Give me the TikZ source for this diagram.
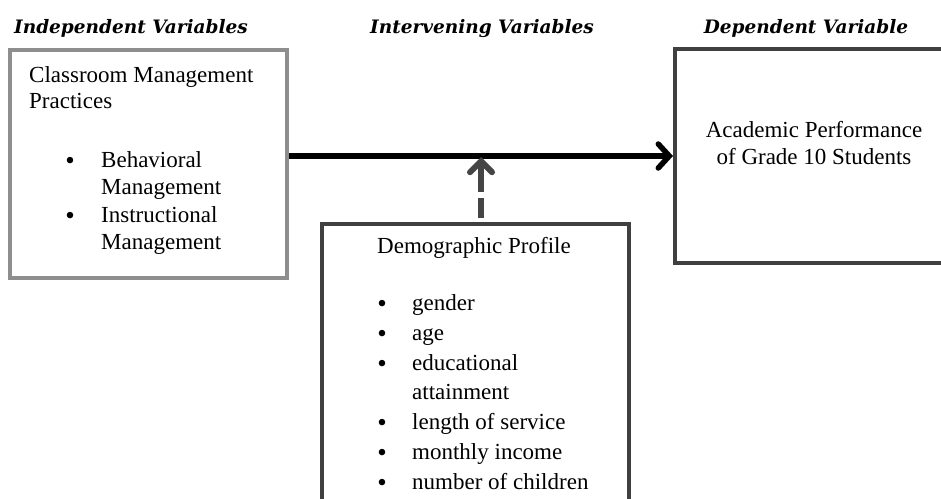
\documentclass[tikz,border=0pt]{standalone}
\usepackage{fontspec}
\setmainfont{Liberation Serif}
\newfontfamily\headfont{DejaVu Serif}
\usetikzlibrary{arrows.meta}
\definecolor{lightgray}{HTML}{8E8E8E}
\definecolor{darkbox}{HTML}{404040}
\definecolor{dasharrow}{HTML}{454545}
\tikzset{
  head/.style={font=\headfont\bfseries\itshape\fontsize{18.5}{22}\selectfont, anchor=base, inner sep=0pt},
  body/.style={font=\fontsize{23}{28}\selectfont, anchor=base west, inner sep=0pt},
  bodyc/.style={font=\fontsize{23}{28}\selectfont, anchor=base, inner sep=0pt},
  bul/.style={font=\fontsize{27}{27}\selectfont, anchor=base, inner sep=0pt, yshift=-2pt},
  box/.style={draw, rectangle, inner sep=0pt, line width=4pt},
  mainarrow/.style={line width=5.5pt, -{Straight Barb[length=11pt,width=24pt,line cap=round]}},
  dasharr/.style={line width=6pt, color=dasharrow, dash pattern=on 20pt off 6pt on 100pt off 0pt, -{Straight Barb[length=11pt,width=22pt,line cap=round]}}
}
\begin{document}
\begin{tikzpicture}[x=1pt,y=-1pt]
\useasboundingbox[fill=white] (0,0) rectangle (941,498);
% headers
\node[head] (hind) at (131,33) {Independent Variables};
\node[head] (hint) at (482,33) {Intervening Variables};
\node[head] (hdep) at (806,33) {Dependent Variable};
% boxes
\node[box, draw=lightgray, minimum width=277pt, minimum height=228pt] (leftbox) at (148.5,164) {};
\node[box, draw=darkbox, minimum width=285pt, minimum height=214pt] (rightbox) at (817.5,156) {};
\node[box, draw=darkbox, minimum width=307pt, minimum height=300pt] (midbox) at (475.5,374) {};
% left box text
\node[body] (l1) at (29,82) {Classroom Management};
\node[body] (l2) at (29,108) {Practices};
\node[bul] (lb1) at (70,167) {•};
\node[body] (l3) at (101,167) {Behavioral};
\node[body] (l4) at (101,194) {Management};
\node[bul] (lb2) at (70,222) {•};
\node[body] (l5) at (101,222) {Instructional};
\node[body] (l6) at (101,249) {Management};
% right box text
\node[bodyc] (r1) at (814,137) {Academic Performance};
\node[bodyc] (r2) at (814,164) {of Grade 10 Students};
% middle box text
\node[body] (m0) at (377,253) {Demographic Profile};
\node[bul] (mb1) at (382,310) {•};
\node[body] (m1) at (412,310) {gender};
\node[bul] (mb2) at (382,340) {•};
\node[body] (m2) at (412,340) {age};
\node[bul] (mb3) at (382,370) {•};
\node[body] (m3) at (412,370) {educational};
\node[body] (m3b) at (412,399) {attainment};
\node[bul] (mb4) at (382,429) {•};
\node[body] (m4) at (412,429) {length of service};
\node[bul] (mb5) at (382,459) {•};
\node[body] (m5) at (412,459) {monthly income};
\node[bul] (mb6) at (382,489) {•};
\node[body] (m6) at (412,489) {number of children};
% connectors
\draw[mainarrow] (leftbox.east |- rightbox.west) -- (rightbox.west);
\coordinate (dtip) at (481,157);
\coordinate (dstart) at (481,218);
\draw[dasharr] (dstart) -- (dtip);
\end{tikzpicture}
\end{document}
